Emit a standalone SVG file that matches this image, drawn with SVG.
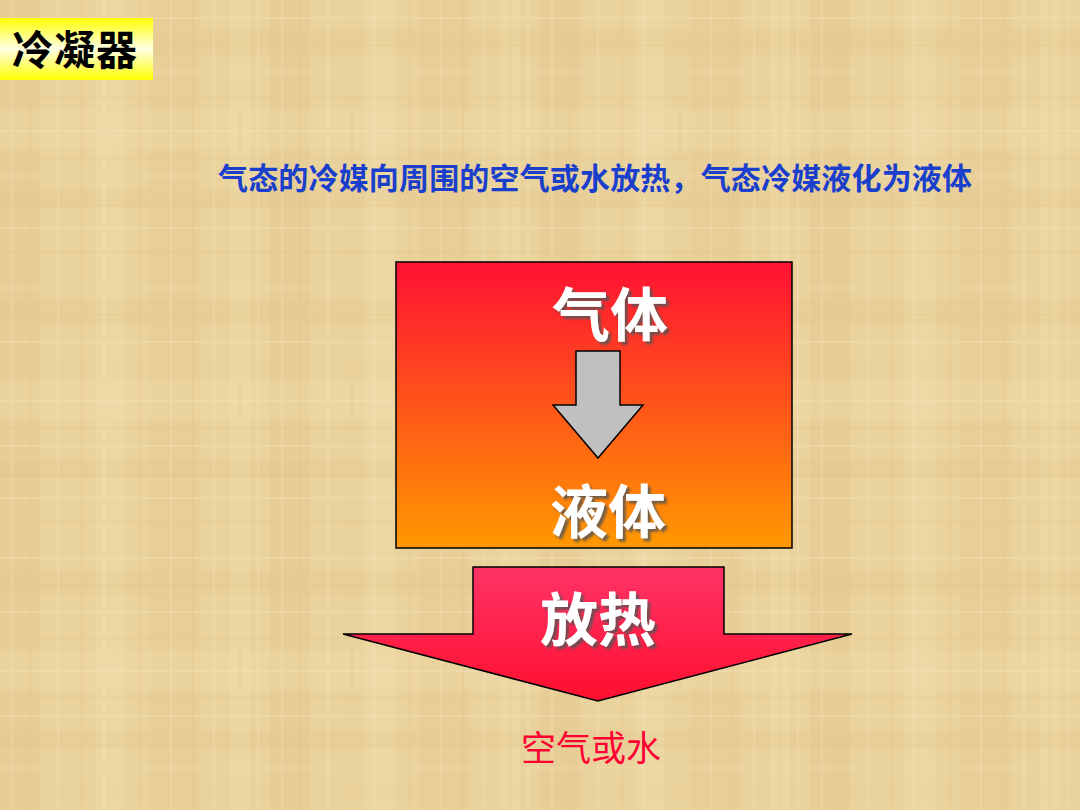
<svg xmlns="http://www.w3.org/2000/svg" width="1080" height="810" viewBox="0 0 1080 810">
<defs>
<style>
.cjk{font-family:"Noto Sans CJK SC","Liberation Sans",sans-serif;}
.big{font-size:58px;font-weight:bold;fill:#FFFFFF;filter:url(#shadow);text-anchor:middle;}
</style>
<pattern id="paper" width="270" height="270" patternUnits="userSpaceOnUse">
<rect width="270" height="270" fill="#EAD29C"/>
<rect x="0" y="0" width="40" height="270" fill="#E2C68A" opacity="0.3"/>
<rect x="95" y="0" width="30" height="270" fill="#F1DEAE" opacity="0.35"/>
<rect x="150" y="0" width="50" height="270" fill="#E2C688" opacity="0.25"/>
<rect x="230" y="0" width="20" height="270" fill="#F3E1B2" opacity="0.3"/>
<rect x="0" y="30" width="270" height="25" fill="#E0C486" opacity="0.2"/>
<rect x="0" y="110" width="270" height="40" fill="#F2DEAE" opacity="0.25"/>
<rect x="0" y="190" width="270" height="18" fill="#DFC282" opacity="0.2"/>
<g stroke="#F6E8C2" stroke-width="1" opacity="0.5">
<line x1="12" y1="0" x2="12" y2="270"/><line x1="58" y1="0" x2="58" y2="270"/><line x1="104" y1="0" x2="104" y2="270"/><line x1="171" y1="0" x2="171" y2="270"/><line x1="214" y1="0" x2="214" y2="270"/><line x1="258" y1="0" x2="258" y2="270"/>
<line x1="0" y1="18" x2="270" y2="18"/><line x1="0" y1="72" x2="270" y2="72"/><line x1="0" y1="131" x2="270" y2="131"/><line x1="0" y1="176" x2="270" y2="176"/><line x1="0" y1="228" x2="270" y2="228"/>
</g>
<g stroke="#D9BC7E" stroke-width="1" opacity="0.4">
<line x1="30" y1="0" x2="30" y2="270"/><line x1="82" y1="0" x2="82" y2="270"/><line x1="140" y1="0" x2="140" y2="270"/><line x1="193" y1="0" x2="193" y2="270"/><line x1="240" y1="0" x2="240" y2="270"/>
<line x1="0" y1="45" x2="270" y2="45"/><line x1="0" y1="98" x2="270" y2="98"/><line x1="0" y1="158" x2="270" y2="158"/><line x1="0" y1="205" x2="270" y2="205"/><line x1="0" y1="252" x2="270" y2="252"/>
</g>
</pattern>
<linearGradient id="titleG" x1="0" y1="0" x2="0" y2="1">
<stop offset="0" stop-color="#FFFF00"/>
<stop offset="0.5" stop-color="#FFFFE6"/>
<stop offset="1" stop-color="#FFFF00"/>
</linearGradient>
<linearGradient id="boxG" x1="0" y1="0" x2="0" y2="1">
<stop offset="0" stop-color="#FF1133"/>
<stop offset="1" stop-color="#FF9900"/>
</linearGradient>
<linearGradient id="arrowG" x1="0" y1="0" x2="0" y2="1">
<stop offset="0" stop-color="#FF3366"/>
<stop offset="1" stop-color="#FF0F2E"/>
</linearGradient>
<filter id="shadow" x="-20%" y="-20%" width="140%" height="140%">
<feDropShadow dx="3" dy="3" stdDeviation="1.2" flood-color="#555555" flood-opacity="0.8"/>
</filter>
</defs>
<rect width="1080" height="810" fill="url(#paper)"/>
<g id="title">
<rect x="0" y="18" width="153" height="62" fill="url(#titleG)"/>
<text x="12" y="65" class="cjk" font-size="41" font-weight="bold" fill="#000000" textLength="125">冷凝器</text>
</g>
<g id="subtitle">
<text x="218" y="189" class="cjk" font-size="30" font-weight="bold" fill="#1A3FCC" textLength="754">气态的冷媒向周围的空气或水放热，气态冷媒液化为液体</text>
</g>
<g id="box">
<rect x="396" y="262" width="396" height="286" fill="url(#boxG)" stroke="#000000" stroke-width="1.5"/>
<text x="610" y="336" class="cjk big">气体</text>
<text x="608" y="533" class="cjk big">液体</text>
</g>
<g id="connectors">
<polygon points="576,351 620,351 620,405 643,405 598,458 553,405 576,405" fill="#C0C0C0" stroke="#000000" stroke-width="1.5"/>
</g>
<g id="heat">
<polygon points="473,567 724,567 724,634 852,634 598,701 343,634 473,634" fill="url(#arrowG)" stroke="#000000" stroke-width="1.5"/>
<text x="598" y="641" class="cjk big">放热</text>
</g>
<g id="medium">
<text x="591" y="761" class="cjk" font-size="35" fill="#FF0033" text-anchor="middle">空气或水</text>
</g>
</svg>
